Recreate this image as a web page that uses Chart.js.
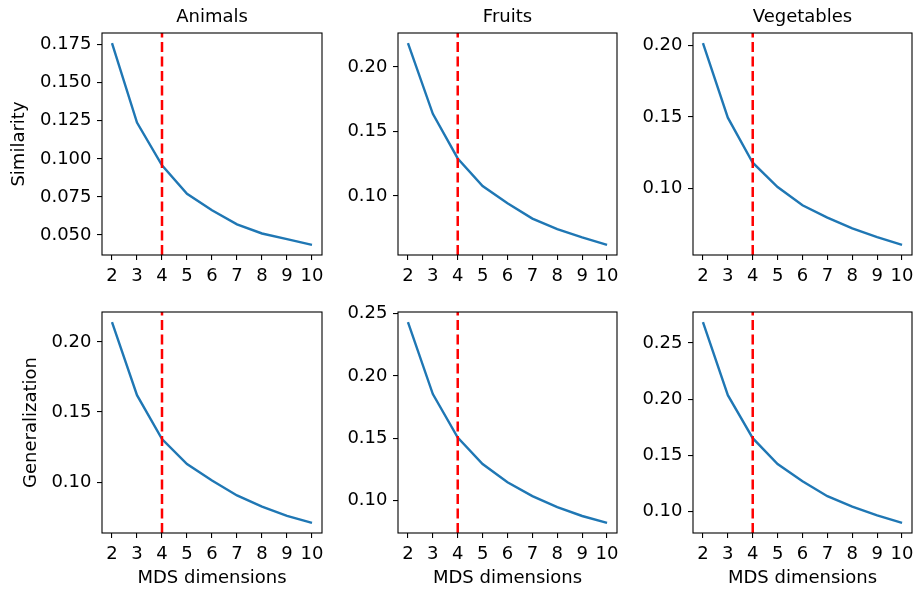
<!DOCTYPE html>
<html>
<head>
<meta charset="utf-8">
<script src="https://cdn.jsdelivr.net/npm/chart.js@4.4.1/dist/chart.umd.min.js"></script>
<style>
  html, body { margin: 0; padding: 0; background: #fff; overflow: hidden; }
  body { width: 917px; height: 590px; position: relative; }
  canvas { position: absolute; }
</style>
</head>
<body>
<script>
// --- data ---
const dims = [2, 3, 4, 5, 6, 7, 8, 9, 10];
const chosenDim = 4;
const categories = ['Animals', 'Fruits', 'Vegetables'];
const measures = ['Similarity', 'Generalization'];

const simAnimals    = [0.176, 0.1238, 0.0958, 0.0771, 0.0662, 0.0570, 0.0510, 0.0473, 0.0435];
const simFruits     = [0.2185, 0.1637, 0.1291, 0.1077, 0.0944, 0.0825, 0.0743, 0.0679, 0.0621];
const simVegetables = [0.2017, 0.1495, 0.1180, 0.1010, 0.0882, 0.0796, 0.0720, 0.0660, 0.0605];
const genAnimals    = [0.2141, 0.1620, 0.1307, 0.1130, 0.1012, 0.0906, 0.0826, 0.0760, 0.0710];
const genFruits     = [0.2433, 0.1854, 0.1505, 0.1292, 0.1145, 0.1034, 0.0946, 0.0874, 0.0818];
const genVegetables = [0.2685, 0.2035, 0.1653, 0.1424, 0.1271, 0.1138, 0.1045, 0.0968, 0.0900];

const simAnimalsTicks    = [0.05, 0.075, 0.1, 0.125, 0.15, 0.175];
const simFruitsTicks     = [0.10, 0.15, 0.20];
const simVegetablesTicks = [0.10, 0.15, 0.20];
const genAnimalsTicks    = [0.10, 0.15, 0.20];
const genFruitsTicks     = [0.10, 0.15, 0.20, 0.25];
const genVegetablesTicks = [0.10, 0.15, 0.20, 0.25];

const panels = [
  { row: 0, col: 0, values: simAnimals,    ticks: simAnimalsTicks,    digits: 3 },
  { row: 0, col: 1, values: simFruits,     ticks: simFruitsTicks,     digits: 2 },
  { row: 0, col: 2, values: simVegetables, ticks: simVegetablesTicks, digits: 2 },
  { row: 1, col: 0, values: genAnimals,    ticks: genAnimalsTicks,    digits: 2 },
  { row: 1, col: 1, values: genFruits,     ticks: genFruitsTicks,     digits: 2 },
  { row: 1, col: 2, values: genVegetables, ticks: genVegetablesTicks, digits: 2 }
];

// --- layout (plot areas in page px) ---
const colLeft = [102, 398, 693], colRight = [322, 617, 912];
const rowTop = [33, 312], rowBottom = [255, 533];
const yAxisW = [102, 70, 70];
const topSpace = [33, 20];
const xAxisH = [30, 57];
const padRight = 14;
const ylabelPad = [8.2, 20.2];

Chart.defaults.font.family = "'DejaVu Sans', sans-serif";
Chart.defaults.font.size = 18;
Chart.defaults.color = '#000';

// matplotlib-like box around the axes
const frame = {
  id: 'frame',
  afterDatasetsDraw(chart) {
    const a = chart.chartArea, ctx = chart.ctx;
    ctx.save();
    ctx.strokeStyle = '#000';
    ctx.lineWidth = 1.1;
    ctx.strokeRect(a.left, a.top, a.right - a.left, a.bottom - a.top);
    ctx.restore();
  }
};

function margins(lo, hi) {
  const m = (hi - lo) * 0.05;
  return [lo - m, hi + m];
}

panels.forEach(function (p) {
  const w = yAxisW[p.col] + (colRight[p.col] - colLeft[p.col]) + padRight;
  const h = topSpace[p.row] + (rowBottom[p.row] - rowTop[p.row]) + xAxisH[p.row];
  const canvas = document.createElement('canvas');
  canvas.width = w;
  canvas.height = h;
  canvas.style.left = (colLeft[p.col] - yAxisW[p.col]) + 'px';
  canvas.style.top = (rowTop[p.row] - topSpace[p.row]) + 'px';
  document.body.appendChild(canvas);

  const [xMin, xMax] = margins(dims[0], dims[dims.length - 1]);
  const [yMin, yMax] = margins(Math.min(...p.values), Math.max(...p.values));
  const isTop = p.row === 0;
  const isBottom = p.row === 1;
  const isLeft = p.col === 0;

  new Chart(canvas, {
    type: 'line',
    data: {
      datasets: [
        {
          data: [{ x: chosenDim, y: yMin }, { x: chosenDim, y: yMax }],
          borderColor: '#ff0000',
          borderWidth: 2.5,
          borderDash: [10, 4.5],
          pointRadius: 0
        },
        {
          data: dims.map((d, i) => ({ x: d, y: p.values[i] })),
          borderColor: '#1f77b4',
          borderWidth: 2.4,
          pointRadius: 0,
          tension: 0
        }
      ]
    },
    options: {
      responsive: false,
      animation: false,
      events: [],
      layout: { padding: { top: isTop ? 0 : topSpace[p.row], right: padRight, left: 0, bottom: 0 } },
      plugins: {
        legend: { display: false },
        tooltip: { enabled: false },
        title: {
          display: isTop,
          text: categories[p.col],
          fullSize: false,
          font: { size: 18, weight: 'normal', lineHeight: 1.2 },
          padding: { top: 6.4, bottom: 5.0 }
        }
      },
      scales: {
        x: {
          type: 'linear',
          min: xMin,
          max: xMax,
          afterBuildTicks: s => { s.ticks = dims.map(v => ({ value: v })); },
          afterFit: s => { s.height = xAxisH[p.row]; },
          ticks: { autoSkip: false, maxRotation: 0, padding: 5.5, callback: v => String(v) },
          grid: { drawOnChartArea: false, drawTicks: true, tickLength: 5, color: '#000', lineWidth: 1.1 },
          border: { display: false },
          title: {
            display: isBottom,
            text: 'MDS dimensions',
            padding: { top: 0, bottom: 0.5 }
          }
        },
        y: {
          type: 'linear',
          min: yMin,
          max: yMax,
          afterBuildTicks: s => { s.ticks = p.ticks.map(v => ({ value: v })); },
          afterFit: s => { s.width = yAxisW[p.col]; },
          ticks: { padding: 5.5, callback: v => v.toFixed(p.digits) },
          grid: { drawOnChartArea: false, drawTicks: true, tickLength: 5, color: '#000', lineWidth: 1.1 },
          border: { display: false },
          title: {
            display: isLeft,
            text: measures[p.row],
            padding: { top: ylabelPad[p.row], bottom: 0 }
          }
        }
      }
    },
    plugins: [frame]
  });
});
</script>
</body>
</html>
